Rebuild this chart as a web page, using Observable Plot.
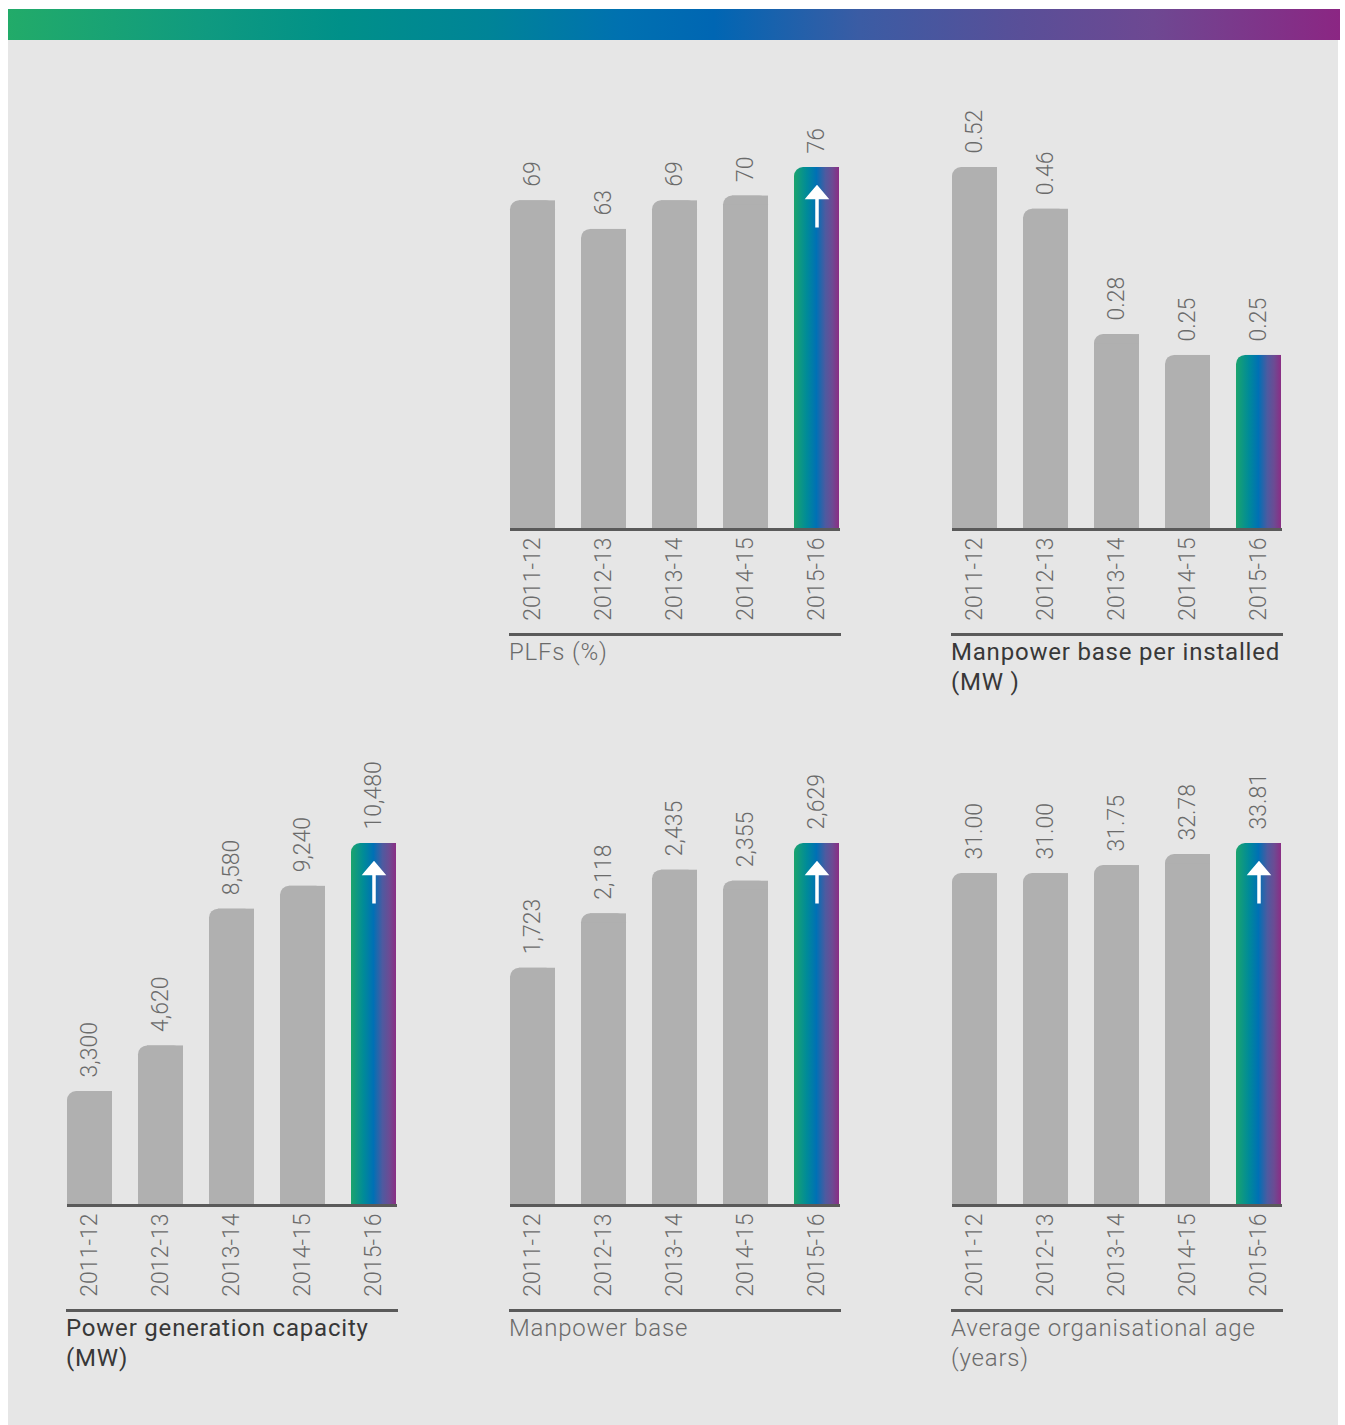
<!DOCTYPE html>
<html>
<head>
<meta charset="utf-8">
<script src="https://cdn.jsdelivr.net/npm/d3@7"></script>
<script src="https://cdn.jsdelivr.net/npm/@observablehq/plot@0.6"></script>
<style>
html, body { margin: 0; padding: 0; background: #ffffff; }
body { width: 1345px; height: 1425px; position: relative; overflow: hidden; font-family: Roboto, "Noto Sans", sans-serif; }
#band { position: absolute; left: 8px; top: 9px; width: 1332px; height: 31px;
  background: linear-gradient(to right, #22ab69 0%, #0f9a80 15%, #009089 25%, #008497 36%, #0071b0 46%, #0066b3 53%, #3b5ca4 64%, #594f98 76%, #6e4892 86%, #8b2683 100%); }
#panel { position: absolute; left: 8px; top: 40px; width: 1330px; height: 1385px; background: #e6e6e6; }
.chart { position: absolute; }
.chart svg { overflow: visible; }
.title { position: absolute; width: 332px; border-top: 3px solid #5a5a5a; padding-top: 1px;
  font-size: 24px; line-height: 30px; letter-spacing: 0.8px; white-space: pre-line; }
.title.dark { color: #383838; font-weight: 400; }
.title.light { color: #6b6b6b; font-weight: 300; }
</style>
</head>
<body>
<div id="band"></div>
<div id="panel"></div>
<div id="root"></div>
<script>
// ---- data ----
const years = ["2011-12", "2012-13", "2013-14", "2014-15", "2015-16"];
const plf = [69, 63, 69, 70, 76];
const manpowerPerMW = [0.52, 0.46, 0.28, 0.25, 0.25];
const capacity = [3300, 4620, 8580, 9240, 10480];
const manpower = [1723, 2118, 2435, 2355, 2629];
const orgAge = [31.00, 31.00, 31.75, 32.78, 33.81];
const titles = {
  plf: "PLFs (%)",
  manpowerPerMW: "Manpower base per installed\n(MW )",
  capacity: "Power generation capacity\n(MW)",
  manpower: "Manpower base",
  orgAge: "Average organisational age\n(years)"
};

// ---- styling / layout ----
const barStops = [
  ["0%", "#1ba46d"], ["28%", "#008b98"], ["50%", "#0070b5"],
  ["70%", "#4e5aa0"], ["85%", "#6c4b93"], ["100%", "#8b2d84"]
];
const charts = [
  {key: "plf", values: plf, fmt: d3.format("d"), left: 490, top: 60, arrow: true, tone: "light"},
  {key: "manpowerPerMW", values: manpowerPerMW, fmt: d3.format(".2f"), left: 932, top: 60, arrow: false, tone: "dark"},
  {key: "capacity", values: capacity, fmt: d3.format(","), left: 47, top: 736, arrow: true, tone: "dark"},
  {key: "manpower", values: manpower, fmt: d3.format(","), left: 490, top: 736, arrow: true, tone: "light"},
  {key: "orgAge", values: orgAge, fmt: d3.format(".2f"), left: 932, top: 736, arrow: true, tone: "light"}
];

const arrowShape = {
  draw(ctx, l) {
    ctx.moveTo(0, 0);
    ctx.lineTo(0, -l + 11);
    ctx.moveTo(-8.5, -l + 11);
    ctx.lineTo(0, -l + 1);
    ctx.lineTo(8.5, -l + 11);
    ctx.closePath();
  }
};

const root = document.getElementById("root");
const W = 370, H = 574, ML = 20, MR = 20, MT = 107, MB = 105, R = 9;

// a bar with only its top-left corner rounded: rounded bar + two square bars covering the other corners
function cornerBars(data, fill) {
  return [
    Plot.barY(data, {x: "year", y: "value", fill, rx: R, ry: R}),
    Plot.barY(data, {x: "year", y: "value", fill, insetLeft: R}),
    Plot.barY(data, {x: "year", y: "value", fill, insetTop: R})
  ];
}

charts.forEach(cfg => {
  const data = years.map((year, i) => ({year, value: cfg.values[i], last: i === years.length - 1}));
  const gid = "grad-" + cfg.key;
  const marks = [
    ...cornerBars(data.filter(d => !d.last), "#b0b0b0"),
    ...cornerBars(data.filter(d => d.last), `url(#${gid})`),
    Plot.ruleY([0], {stroke: "#5a5a5a", strokeWidth: 3}),
    Plot.text(data, {x: "year", y: "value", text: d => cfg.fmt(d.value), rotate: -90, textAnchor: "start",
      dy: -14, fontSize: 23, fontWeight: 300, fill: "#6b6b6b"}),
    Plot.axisX({tickRotate: -90, tickSize: 0, tickPadding: 8, fontSize: 23, fontWeight: 300, label: null, fill: "#6b6b6b"})
  ];
  if (cfg.arrow) {
    marks.push(Plot.vector(data.filter(d => d.last), {
      x: "year", y: "value", length: 41, rotate: 0, anchor: "start", dy: 60,
      shape: arrowShape, stroke: "white", fill: "white", strokeWidth: 3.5,
      strokeLinejoin: "miter", strokeLinecap: "butt"
    }));
  }
  const svg = Plot.plot({
    width: W, height: H,
    marginLeft: ML, marginRight: MR, marginTop: MT, marginBottom: MB,
    x: {type: "band", domain: years, paddingInner: 0.366, paddingOuter: 0, align: 0.5},
    y: {domain: [0, d3.max(cfg.values)], axis: null},
    style: {background: "transparent", color: "#6b6b6b", fontFamily: "Roboto, 'Noto Sans', sans-serif", overflow: "visible"},
    marks
  });
  const xs = svg.scale("x");
  const bx = xs.apply(years[years.length - 1]);
  const defs = d3.select(svg).insert("defs", ":first-child");
  const lg = defs.append("linearGradient").attr("id", gid)
    .attr("gradientUnits", "userSpaceOnUse")
    .attr("x1", bx).attr("x2", bx + xs.bandwidth).attr("y1", 0).attr("y2", 0);
  barStops.forEach(([o, c]) => lg.append("stop").attr("offset", o).attr("stop-color", c));

  const div = document.createElement("div");
  div.className = "chart";
  div.style.left = cfg.left + "px";
  div.style.top = cfg.top + "px";
  div.appendChild(svg);
  root.appendChild(div);

  const t = document.createElement("div");
  t.className = "title " + cfg.tone;
  t.style.left = (cfg.left + ML - 1) + "px";
  t.style.top = (cfg.top + H - 1) + "px";
  t.textContent = titles[cfg.key];
  root.appendChild(t);
});
</script>
</body>
</html>
